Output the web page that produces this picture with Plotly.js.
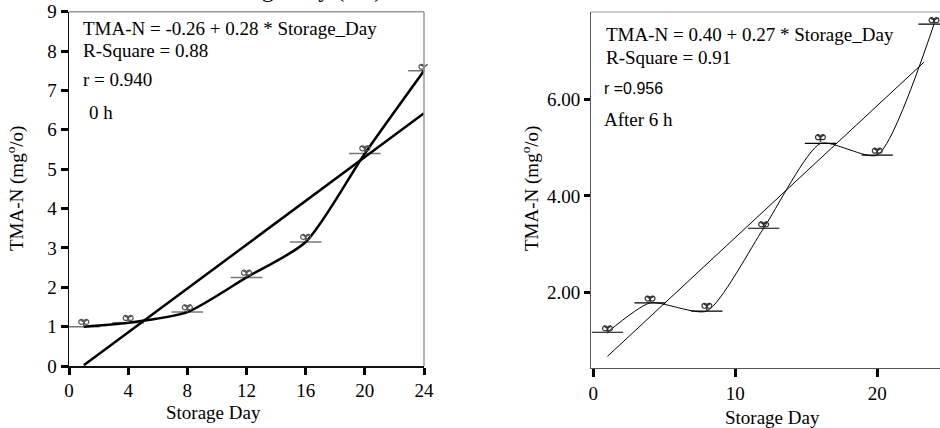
<!DOCTYPE html>
<html>
<head>
<meta charset="utf-8">
<script src="https://cdn.plot.ly/plotly-3.0.1.min.js"></script>
<style>html,body{margin:0;padding:0;background:#fff;}#chart{width:940px;height:428px;}</style>
</head>
<body>
<div id="chart"></div>
<script>
// ---- Data ----
var days = [1, 4, 8, 12, 16, 20, 24];

// 0 h panel
var mean0h = [1.00, 1.10, 1.37, 2.25, 3.15, 5.40, 7.50];
var rep0h = [1.12, 1.22, 1.49, 2.37, 3.28, 5.53, 7.60];
var fit0hX = [1, 24];
var fit0hY = [0.02, 6.42];

// After 6 h panel
var mean6h = [1.17, 1.78, 1.61, 3.33, 5.09, 4.85, 7.57];
var rep6h = [1.25, 1.87, 1.72, 3.41, 5.22, 4.94, 7.65];
var fit6hX = [1, 23.3];
var fit6hY = [0.67, 6.78];

var xTicks0h = [0, 4, 8, 12, 16, 20, 24];
var yTicks0h = [0, 1, 2, 3, 4, 5, 6, 7, 8, 9];
var xTicks6h = [0, 10, 20];
var yTicks6h = [2, 4, 6];

var serif = 'Liberation Serif';
var sans = 'Liberation Sans';

function replicateTraces(xs, ys, xa, ya, col) {
  var dx = 0.17;
  return [
    {x: xs.map(function(v){return v - dx;}), y: ys, xaxis: xa, yaxis: ya, mode: 'markers', type: 'scatter',
     marker: {symbol: 'circle-open', size: 5, color: col, line: {width: 1.2, color: col}}, cliponaxis: false, hoverinfo: 'skip'},
    {x: xs.map(function(v){return v + dx;}), y: ys, xaxis: xa, yaxis: ya, mode: 'markers', type: 'scatter',
     marker: {symbol: 'circle-open', size: 5, color: col, line: {width: 1.2, color: col}}, cliponaxis: false, hoverinfo: 'skip'},
    {x: xs, y: ys, xaxis: xa, yaxis: ya, mode: 'markers', type: 'scatter',
     marker: {symbol: 'y-down-open', size: 6, color: col, line: {width: 1.5, color: col}}, cliponaxis: false, hoverinfo: 'skip'}
  ];
}

var traces = [];
// Left panel
traces.push({x: days, y: mean0h, xaxis: 'x', yaxis: 'y', mode: 'markers', type: 'scatter',
  marker: {size: 1, opacity: 0}, cliponaxis: false,
  error_x: {type: 'constant', value: 1.07, width: 0, thickness: 1.5, color: '#777'}});
traces.push({x: days, y: mean0h, xaxis: 'x', yaxis: 'y', mode: 'lines', type: 'scatter',
  line: {color: '#000', width: 2.5, shape: 'spline', smoothing: 0.7}});
traces.push({x: fit0hX, y: fit0hY, xaxis: 'x', yaxis: 'y', mode: 'lines', type: 'scatter',
  line: {color: '#000', width: 2.5}});
traces = traces.concat(replicateTraces(days, rep0h, 'x', 'y', '#555'));

// Right panel
traces.push({x: days, y: mean6h, xaxis: 'x2', yaxis: 'y2', mode: 'markers', type: 'scatter',
  marker: {size: 1, opacity: 0}, cliponaxis: false,
  error_x: {type: 'constant', value: 1.1, width: 0, thickness: 1.2, color: '#000'}});
traces.push({x: days, y: mean6h, xaxis: 'x2', yaxis: 'y2', mode: 'lines', type: 'scatter',
  line: {color: '#000', width: 1, shape: 'spline', smoothing: 0.6}});
traces.push({x: fit6hX, y: fit6hY, xaxis: 'x2', yaxis: 'y2', mode: 'lines', type: 'scatter',
  line: {color: '#000', width: 1}});
traces = traces.concat(replicateTraces(days, rep6h, 'x2', 'y2', '#333'));

var W = 940, H = 428;
function px(x) { return x / W; }
function py(y) { return 1 - y / H; }

var tickFont = {family: serif, size: 19, color: '#000'};

function ann(text, x, y, size, fam, extra) {
  var a = {text: text, xref: 'paper', yref: 'paper', x: px(x), y: py(y), xanchor: 'left', yanchor: 'middle',
    showarrow: false, font: {family: fam || serif, size: size || 19, color: '#000'}};
  if (extra) for (var k in extra) a[k] = extra[k];
  return a;
}

var layout = {
  width: W, height: H,
  margin: {l: 0, r: 0, t: 0, b: 0},
  paper_bgcolor: '#fff', plot_bgcolor: '#fff',
  showlegend: false,
  font: {family: serif, size: 19, color: '#000'},
  xaxis: {domain: [px(69), px(424)], range: [0, 24], tickvals: xTicks0h, ticks: 'outside', ticklen: 7, tickwidth: 3,
    tickcolor: '#000', showline: true, linecolor: '#111', linewidth: 1.5, showgrid: false, zeroline: false,
    tickfont: tickFont, anchor: 'y'},
  yaxis: {domain: [py(366), py(11.7)], range: [0, 9], tickvals: yTicks0h, ticks: 'outside', ticklen: 7, tickwidth: 3,
    tickcolor: '#000', showline: true, linecolor: '#111', linewidth: 1.5, showgrid: false, zeroline: false,
    tickfont: tickFont, anchor: 'x'},
  xaxis2: {domain: [px(591), 1], range: [-0.16, 24.42], tickvals: xTicks6h, ticks: 'outside', ticklen: 8, tickwidth: 3,
    tickcolor: '#000', showline: true, linecolor: '#555', linewidth: 1, showgrid: false, zeroline: false,
    tickfont: tickFont, anchor: 'y2'},
  yaxis2: {domain: [py(367.7), py(12)], range: [0.434, 7.82], tickvals: yTicks6h, tickformat: '.2f', ticks: 'outside', ticklen: 6, tickwidth: 3,
    tickcolor: '#000', showline: true, linecolor: '#555', linewidth: 1, showgrid: false, zeroline: false,
    tickfont: tickFont, anchor: 'x2'},
  shapes: [
    {type: 'line', xref: 'x domain', yref: 'y domain', x0: 0, x1: 1, y0: 1, y1: 1, line: {color: '#999', width: 1.5}},
    {type: 'line', xref: 'x domain', yref: 'y domain', x0: 1, x1: 1, y0: 0, y1: 1, line: {color: '#999', width: 1.5}},
    {type: 'line', xref: 'x2 domain', yref: 'y2 domain', x0: 0, x1: 1, y0: 1, y1: 1, line: {color: '#999', width: 1.2}}
  ],
  annotations: [
    ann('TMA-N = -0.26 + 0.28 * Storage_Day', 81, 28),
    ann('R-Square = 0.88', 81, 51),
    ann('r = 0.940', 81, 79),
    ann('0 h', 87, 113),
    ann('TMA-N = 0.40 + 0.27 * Storage_Day', 604, 35),
    ann('R-Square = 0.91', 604, 58),
    ann('r =0.956', 602, 88, 16, sans),
    ann('After 6 h', 602, 119),
    ann('Storage Day', 213, 412, 19, serif, {xanchor: 'center'}),
    ann('Storage Day', 772, 417, 19, serif, {xanchor: 'center'}),
    ann('TMA-N (mg<sup>o</sup>/o)', 15, 189, 19, serif, {xanchor: 'center', textangle: -90}),
    ann('TMA-N (mg<sup>o</sup>/o)', 530, 189, 19, serif, {xanchor: 'center', textangle: -90}),
    ann('Storage Day (0 h)', 384, 0, 24, serif, {xanchor: 'right', yanchor: 'bottom', yshift: -4})
  ]
};

Plotly.newPlot('chart', traces, layout, {displayModeBar: false, staticPlot: true});
</script>
</body>
</html>
